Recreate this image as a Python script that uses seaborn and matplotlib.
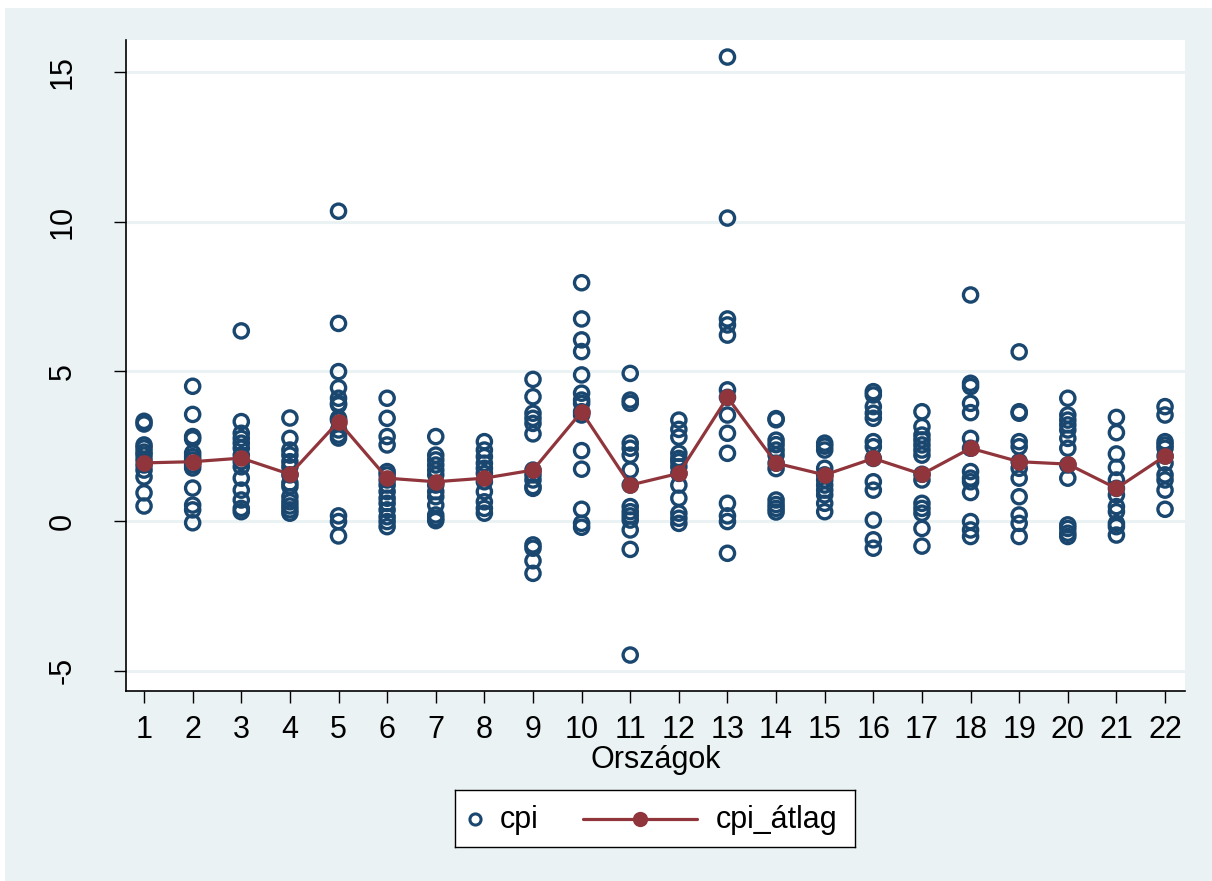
import numpy as np
import pandas as pd
import matplotlib
matplotlib.use("Agg")
import matplotlib.pyplot as plt
import seaborn as sns
from matplotlib.patches import Rectangle

# adatok: országonkénti cpi értékek és átlagok
orszagok = list(range(1, 23))
cpi_by_country = [
    [3.33, 3.24, 2.54, 2.44, 2.3, 2.2, 2.04, 1.87, 1.7, 1.47, 0.94, 0.5],
    [4.5, 3.56, 2.82, 2.74, 2.27, 2.15, 2.04, 1.87, 1.77, 1.1, 0.53, 0.37, -0.06],
    [6.35, 3.32, 2.93, 2.76, 2.6, 2.43, 2.2, 1.98, 1.81, 1.43, 1.03, 0.7, 0.42, 0.31],
    [3.44, 2.76, 2.37, 2.2, 1.98, 1.81, 1.54, 1.27, 1.15, 0.81, 0.64, 0.5, 0.37, 0.26],
    [10.35, 6.6, 4.99, 4.45, 4.1, 3.93, 3.88, 3.43, 3.37, 3.04, 2.87, 2.77, 0.17, -0.02, -0.5],
    [4.1, 3.43, 2.82, 2.54, 1.65, 1.54, 1.37, 1.2, 0.98, 0.76, 0.59, 0.37, 0.14, -0.02, -0.19],
    [2.82, 2.2, 2.04, 1.87, 1.7, 1.54, 1.2, 0.98, 0.81, 0.53, 0.2, 0.09, 0.01],
    [2.65, 2.37, 2.15, 1.93, 1.76, 1.59, 1.31, 0.98, 0.64, 0.42, 0.26],
    [4.73, 4.15, 3.6, 3.43, 3.26, 2.91, 1.7, 1.54, 1.37, 1.15, 1.09, -0.8, -0.91, -1.33, -1.75],
    [7.96, 6.75, 6.05, 5.66, 4.88, 4.27, 4.04, 3.93, 3.65, 3.54, 2.35, 1.73, 0.39, -0.08, -0.21],
    [4.93, 4.04, 3.93, 2.6, 2.43, 2.2, 1.7, 1.2, 0.48, 0.31, 0.17, 0.03, -0.3, -0.95, -4.48],
    [3.37, 3.06, 2.8, 2.26, 2.09, 1.98, 1.81, 1.59, 1.2, 0.76, 0.26, 0.09, -0.08],
    [15.5, 10.12, 6.75, 6.55, 6.21, 4.38, 4.13, 3.54, 2.93, 2.26, 0.59, 0.17, -0.02, -1.08],
    [3.42, 3.38, 2.7, 2.55, 2.37, 2.2, 1.93, 1.75, 0.7, 0.55, 0.42, 0.3],
    [2.6, 2.5, 2.37, 1.76, 1.54, 1.37, 1.2, 1.03, 0.87, 0.59, 0.31],
    [4.32, 4.21, 3.82, 3.6, 3.43, 2.65, 2.48, 2.09, 1.31, 1.03, 0.03, -0.63, -0.91],
    [3.65, 3.15, 2.87, 2.71, 2.54, 2.37, 2.2, 1.56, 1.37, 0.59, 0.42, 0.26, -0.25, -0.84],
    [7.55, 4.6, 4.49, 3.93, 3.62, 2.76, 2.43, 1.65, 1.43, 1.31, 0.95, -0.02, -0.3, -0.52],
    [5.65, 3.65, 3.6, 2.65, 2.48, 1.98, 1.76, 1.43, 0.81, 0.2, -0.08, -0.52],
    [4.1, 3.54, 3.37, 3.21, 3.04, 2.76, 2.43, 1.87, 1.43, -0.13, -0.25, -0.41, -0.52],
    [3.46, 2.95, 2.24, 1.79, 1.37, 1.09, 0.87, 0.48, 0.31, -0.08, -0.19, -0.47],
    [3.82, 3.54, 2.65, 2.54, 2.43, 2.17, 1.93, 1.54, 1.37, 1.03, 0.39],
]
cpi_atlag = [1.94, 1.98, 2.1, 1.56, 3.32, 1.43, 1.31, 1.43, 1.7, 3.65, 1.2,
             1.59, 4.13, 1.93, 1.54, 2.09, 1.56, 2.43, 1.98, 1.9, 1.09, 2.17]
y_ticks = [-5, 0, 5, 10, 15]

df = pd.DataFrame({
    'orszag': [o for o, vals in zip(orszagok, cpi_by_country) for _ in vals],
    'cpi': [v for vals in cpi_by_country for v in vals],
})
df_atlag = pd.DataFrame({'orszag': orszagok, 'cpi_atlag': cpi_atlag})

sns.set_theme(style="white")
plt.rcParams['font.family'] = ['Liberation Sans', 'DejaVu Sans']
plt.rcParams['text.color'] = 'black'
plt.rcParams['xtick.color'] = 'black'
plt.rcParams['ytick.color'] = 'black'
plt.rcParams['axes.labelcolor'] = 'black'

kek = '#1a476f'
bordo = '#90353b'
hatter = '#eaf2f3'
betu = 22

fig = plt.figure(figsize=(12.12, 8.81), dpi=100, facecolor='white')
fig.patches.append(Rectangle((0.004, 0), 0.996, 0.991, transform=fig.transFigure,
                             facecolor=hatter, edgecolor='none', zorder=-10))
ax = fig.add_axes([0.1040, 0.2157, 0.8737, 0.7389])
ax.set_facecolor('white')

for t in y_ticks:
    ax.axhline(t, color=hatter, lw=2.2, zorder=0)

sns.scatterplot(data=df, x='orszag', y='cpi', ax=ax, marker='o', s=105,
                facecolors='none', edgecolor=kek, linewidth=2.4, zorder=3, legend=False)
sns.lineplot(data=df_atlag, x='orszag', y='cpi_atlag', ax=ax, color=bordo, lw=2.3,
             marker='o', markersize=12, markeredgewidth=0, zorder=4, legend=False)

ax.set_xlim(0.63, 22.41)
ax.set_ylim(-5.68, 16.07)
ax.set_xticks(orszagok)
ax.set_yticks(y_ticks)
ax.set_xticklabels([str(o) for o in orszagok], fontsize=betu)
ax.set_yticklabels([str(t) for t in y_ticks], fontsize=betu, rotation=90, va='center')
ax.tick_params(axis='y', direction='out', length=9, width=1, pad=26, left=True)
ax.tick_params(axis='x', direction='out', length=8.5, width=1, pad=9, bottom=True)
for s in ['top', 'right']:
    ax.spines[s].set_visible(False)
for s in ['left', 'bottom']:
    ax.spines[s].set_color('black')
    ax.spines[s].set_linewidth(1.2)
ax.set_xlabel('Országok', fontsize=betu, labelpad=0)
ax.set_ylabel('')

# jelmagyarázat keretben, a rajzterület alatt középen
lax = fig.add_axes([455 / 1212, 34 / 881, 400 / 1212, 57 / 881])
lax.set_xlim(0, 400)
lax.set_ylim(0, 57)
lax.set_facecolor('white')
lax.set_xticks([])
lax.set_yticks([])
for s in lax.spines.values():
    s.set_color('black')
    s.set_linewidth(1.0)
    s.set_visible(True)
lax.plot([20], [28.5], ls='none', marker='o', markersize=8, markerfacecolor='none',
         markeredgecolor=kek, markeredgewidth=2.2)
lax.text(45, 27, 'cpi', fontsize=betu, va='center', ha='left')
lax.plot([128, 242], [28.5, 28.5], color=bordo, lw=2.3)
lax.plot([185], [28.5], ls='none', marker='o', markersize=11, color=bordo, markeredgewidth=0)
lax.text(261, 27, 'cpi_átlag', fontsize=betu, va='center', ha='left')

fig.savefig('out.png', dpi=100, facecolor=fig.get_facecolor())
